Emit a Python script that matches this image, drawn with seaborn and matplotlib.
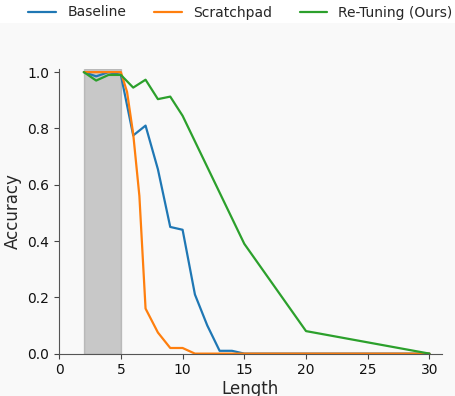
import numpy as np
import pandas as pd
import seaborn as sb
import matplotlib.pyplot as plt
from matplotlib.patches import Rectangle

# valori
length_baseline = [2, 3, 4, 5, 6, 7, 8, 9, 10, 11, 12, 13, 14, 15, 20, 30]
acc_baseline = [1.0, 0.985, 1.0, 0.99, 0.775, 0.81, 0.655, 0.45, 0.44, 0.21, 0.10, 0.01, 0.01, 0.0, 0.0, 0.0]

length_scratch = [2, 3, 4, 5, 5.5, 6, 6.5, 7, 8, 9, 10, 11, 12, 13, 14, 15, 20, 30]
acc_scratch = [1.0, 1.0, 1.0, 1.0, 0.93, 0.78, 0.56, 0.16, 0.075, 0.02, 0.02, 0.0, 0.0, 0.0, 0.0, 0.0, 0.0, 0.0]

length_retuning = [2, 3, 4, 5, 6, 7, 8, 9, 10, 15, 20, 30]
acc_retuning = [1.0, 0.97, 0.99, 0.99, 0.945, 0.973, 0.904, 0.913, 0.845, 0.39, 0.08, 0.0]

train_range = (2, 5)

bg = "#f9f9f9"
sb.set_style("ticks")
plt.rcParams["font.family"] = ["DejaVu Sans"]

fig = plt.figure(figsize=(4.55, 3.96), dpi=100, facecolor=bg)
ax = fig.add_axes([0.130, 0.107, 0.841, 0.718])
ax.set_facecolor(bg)

# banda gri pentru lungimile de antrenare
ax.axvspan(train_range[0], train_range[1], color="gray", alpha=0.4, zorder=0)

sb.lineplot(x=length_baseline, y=acc_baseline, ax=ax, color="tab:blue", linewidth=1.6, label="Baseline")
sb.lineplot(x=length_scratch, y=acc_scratch, ax=ax, color="tab:orange", linewidth=1.6, label="Scratchpad")
sb.lineplot(x=length_retuning, y=acc_retuning, ax=ax, color="tab:green", linewidth=1.6, label="Re-Tuning (Ours)")

if ax.get_legend() is not None:
    ax.get_legend().remove()

ax.set_xlim(0, 31)
ax.set_ylim(0, 1.01)
ax.set_xticks([0, 5, 10, 15, 20, 25, 30])
ax.set_yticks([0.0, 0.2, 0.4, 0.6, 0.8, 1.0])
ax.set_yticklabels(["0.0", "0.2", "0.4", "0.6", "0.8", "1.0"])
ax.set_xlabel("Length", fontsize=12, labelpad=2)
ax.set_ylabel("Accuracy", fontsize=12)
ax.tick_params(labelsize=10, colors="#444444", labelcolor="#111111")
sb.despine(ax=ax)
for side in ["left", "bottom"]:
    ax.spines[side].set_color("#555555")

# banda alba de sus pentru legenda
fig.patches.append(Rectangle((0, 1 - 23 / 396), 1, 23 / 396, transform=fig.transFigure,
                             facecolor="white", edgecolor="none", zorder=0))
handles, labels = ax.get_legend_handles_labels()
fig.legend(handles, labels, loc="center", bbox_to_anchor=(0.5286, 1 - 12.5 / 396),
           ncol=3, frameon=False, fontsize=10)

fig.savefig("out.png", dpi=100, facecolor=bg)
